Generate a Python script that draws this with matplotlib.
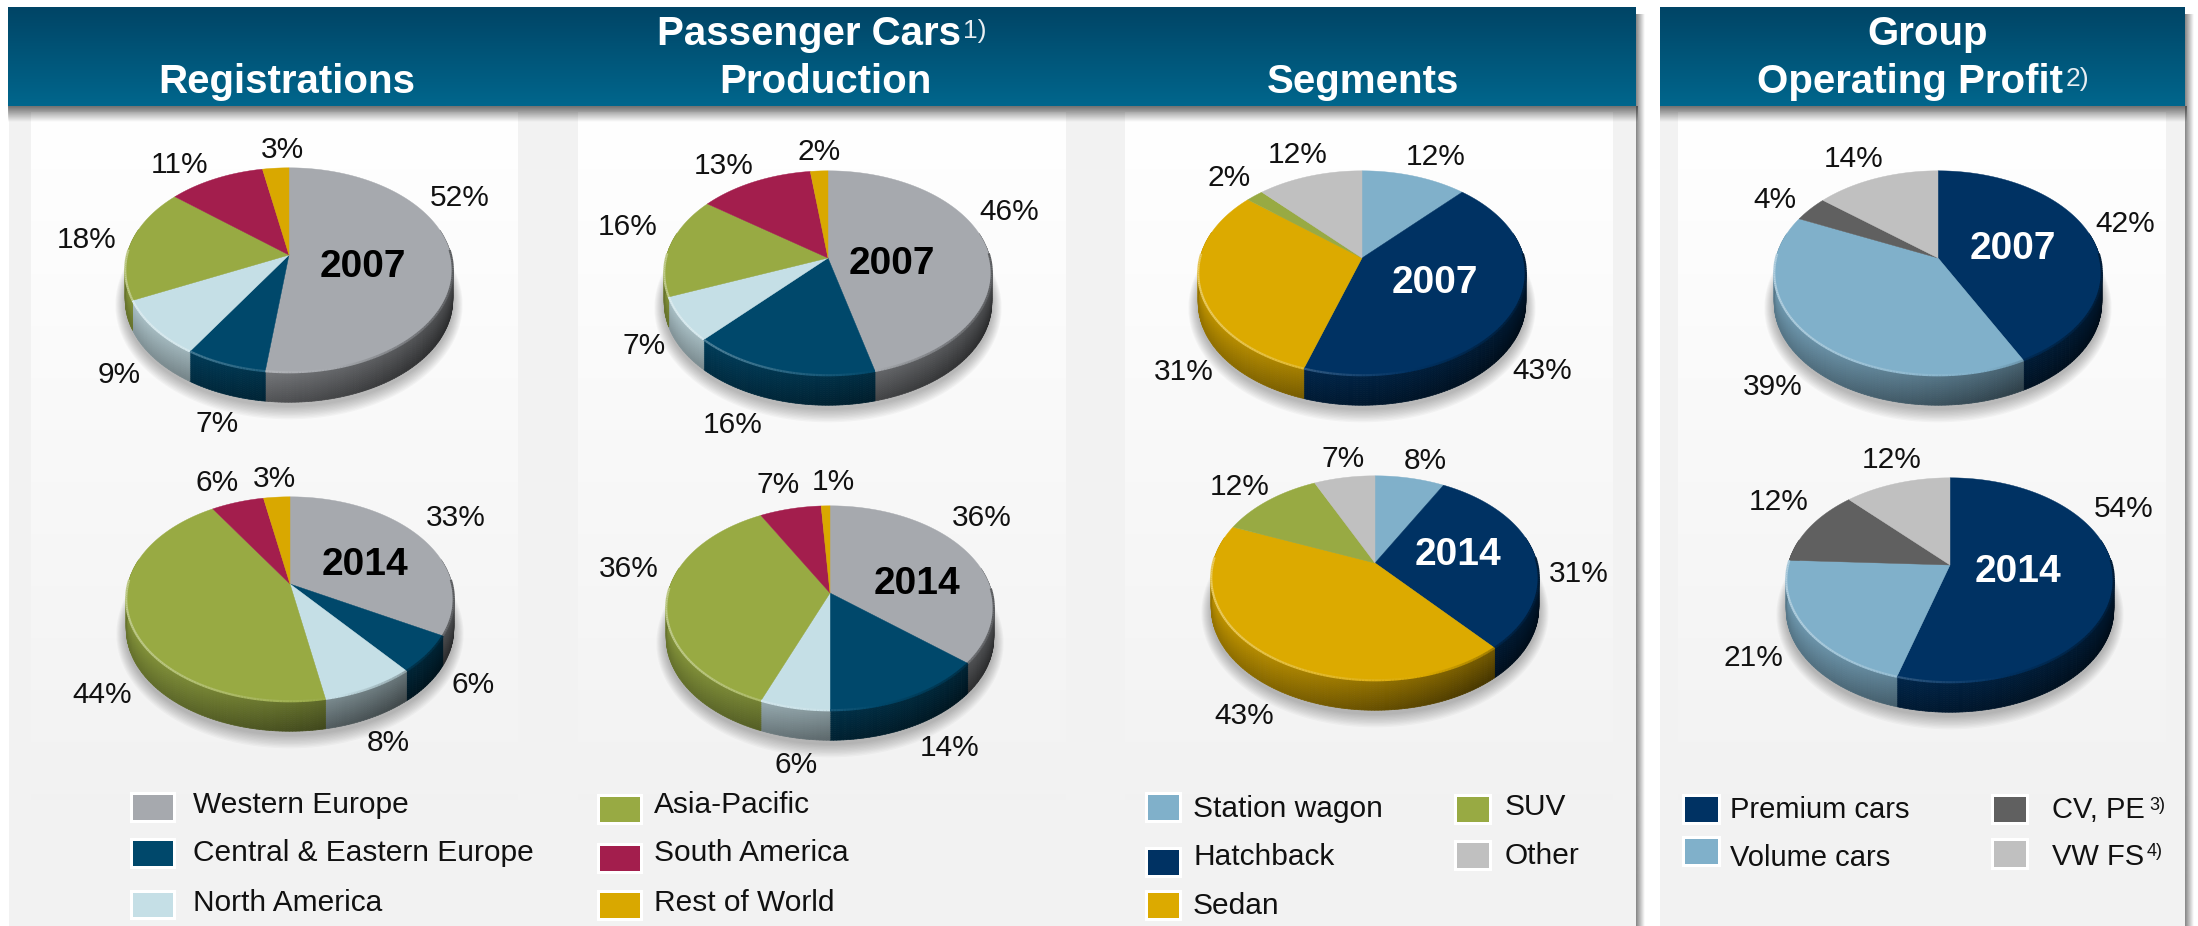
import numpy as np
import matplotlib
matplotlib.use("Agg")
import matplotlib.pyplot as plt
from matplotlib.collections import PolyCollection
from matplotlib.colors import to_rgb

plt.rcParams['font.family'] = ['Liberation Sans', 'DejaVu Sans']

# data
regions = ["Western Europe", "Central & Eastern Europe", "North America",
           "Asia-Pacific", "South America", "Rest of World"]
segments = ["Station wagon", "Hatchback", "Sedan", "SUV", "Other"]
profit_parts = ["Premium cars", "Volume cars", "CV, PE", "VW FS"]

registrations_2007 = [52, 7, 9, 18, 11, 3]
registrations_2014 = [33, 6, 8, 44, 6, 3]
production_2007 = [46, 16, 7, 16, 13, 2]
production_2014 = [36, 14, 6, 36, 7, 1]
segments_2007 = [12, 43, 31, 2, 12]
segments_2014 = [8, 31, 43, 12, 7]
profit_2007 = [42, 39, 4, 14]
profit_2014 = [54, 21, 12, 12]

region_colors = ["#a6a9ae", "#00486b", "#c5dfe6", "#98aa43", "#a31e4d", "#d9a800"]
segment_colors = ["#80b0ca", "#003263", "#dcaa00", "#98aa43", "#c0c0c0"]
profit_colors = ["#003263", "#80b0ca", "#606060", "#c0c0c0"]

# pie shape, in pixels
PIE_A = 162.0
PIE_B = 100.0
PIE_K = 0.147
PIE_DEPTH = 30.0
BANDS = 15

fig = plt.figure(figsize=(21.98, 9.26), dpi=100, facecolor="white")
ax = fig.add_axes([0, 0, 1, 1])


def project(theta, cx, cy):
    # circle seen in perspective, the apex stays off the ellipse centre
    w = 1 + PIE_K * np.cos(theta)
    return cx + PIE_A * np.sin(theta) / w, cy - PIE_B * np.cos(theta) / w


def mix(color, other, amount):
    c = np.array(to_rgb(color))
    return tuple(c * (1 - amount) + np.array(other) * amount)


def draw_pie(values, colors, cx, cy):
    full = np.linspace(0, 2 * np.pi, 361)
    fx, fy = project(full, cx, cy)

    # soft shadow under the pie
    for g in range(10, 0, -1):
        sx = cx + (fx - cx) * (1 + g * 0.006)
        sy = cy + (fy - cy) * (1 + g * 0.012) + PIE_DEPTH + 3
        ax.fill(sx, sy, color="#303030", alpha=0.035, lw=0, zorder=3)

    edges = np.cumsum([0] + list(values)) / sum(values) * 2 * np.pi

    # side wall, in thin strips so that it can be shaded
    polys, shades = [], []
    for i, col in enumerate(colors):
        n = max(int(np.degrees(edges[i + 1] - edges[i])), 2)
        th = np.linspace(edges[i], edges[i + 1], n + 1)
        x, y = project(th, cx, cy)
        for j in range(n):
            # only the front of the wall can be seen
            if np.cos(th[j]) > 0.25 and np.cos(th[j + 1]) > 0.25:
                continue
            t = (0.5 * (x[j] + x[j + 1]) - cx + PIE_A) / (2 * PIE_A)
            for band in range(BANDS):
                d0, d1 = PIE_DEPTH * band / BANDS, PIE_DEPTH * (band + 1) / BANDS
                polys.append([(x[j], y[j] + d0), (x[j + 1], y[j + 1] + d0),
                              (x[j + 1], y[j + 1] + d1), (x[j], y[j] + d1)])
                f = 0.78 - 0.42 * t + 0.10 * (1 - 2 * band / (BANDS - 1))
                shades.append(tuple(np.array(to_rgb(col)) * f))
    ax.add_collection(PolyCollection(polys, facecolors=shades, edgecolors=shades,
                                     linewidths=0.5, zorder=4))

    # top surface and its rim
    for i, col in enumerate(colors):
        n = max(int(np.degrees(edges[i + 1] - edges[i])), 2)
        th = np.linspace(edges[i], edges[i + 1], n + 1)
        x, y = project(th, cx, cy)
        ax.fill(np.r_[cx, x], np.r_[cy, y], color=col, lw=0.3, zorder=5)
        for j in range(n):
            t = (0.5 * (x[j] + x[j + 1]) - cx + PIE_A) / (2 * PIE_A)
            if 0.5 * (y[j] + y[j + 1]) < cy - 5:
                continue
            if t < 0.65:
                rim = mix(col, (1, 1, 1), 0.38 * (1 - t / 0.65))
            else:
                rim = mix(col, (0, 0, 0), 0.45 * (t - 0.65) / 0.35)
            ax.plot(x[j:j + 2], y[j:j + 2], color=rim, lw=1.6, zorder=6,
                    solid_capstyle="butt")


def pie_labels(values, positions, year, year_pos, year_color):
    for v, (x, y) in zip(values, positions):
        ax.text(x, y, f"{v}%", fontsize=21.5, color="#111111",
                ha="center", va="center", zorder=8)
    ax.text(year_pos[0], year_pos[1], year, fontsize=28, fontweight="bold",
            color=year_color, ha="center", va="center", zorder=8)


def vgrad(x0, x1, y0, y1, top, bottom, zorder=1):
    n = 64
    c0, c1 = np.array(top, dtype=float), np.array(bottom, dtype=float)
    s = np.linspace(0, 1, n)[:, None, None]
    ax.imshow(c0[None, None, :] * (1 - s) + c1[None, None, :] * s,
              extent=(x0, x1, y1, y0), origin="upper", aspect="auto",
              interpolation="bilinear", zorder=zorder)


def hgrad(x0, x1, y0, y1, top, bottom, zorder=1):
    n = 32
    c0, c1 = np.array(top, dtype=float), np.array(bottom, dtype=float)
    s = np.linspace(0, 1, n)[None, :, None]
    ax.imshow(c0[None, None, :] * (1 - s) + c1[None, None, :] * s,
              extent=(x0, x1, y1, y0), origin="upper", aspect="auto",
              interpolation="bilinear", zorder=zorder)


# panels
PANEL_BG = (0.949, 0.949, 0.949)
for x0, x1 in [(9, 1636), (1660, 2185)]:
    ax.fill_between([x0, x1], 106, 926, color=PANEL_BG, lw=0, zorder=0)
for x0, x1 in [(31, 518), (578, 1066), (1125, 1613), (1678, 2166)]:
    vgrad(x0, x1, 112, 800, (1, 1, 1), PANEL_BG)

# headers
for x0, x1 in [(8, 1636), (1660, 2185)]:
    vgrad(x0, x1, 7, 106, (0.0, 0.27, 0.40), (0.0, 0.40, 0.55), zorder=2)
    vgrad(x0, x1 + 2, 106, 122, (0.1, 0.1, 0.1, 0.6), (0.1, 0.1, 0.1, 0.0), zorder=2)
    hgrad(x1, x1 + 9, 14, 926, (0.2, 0.2, 0.2, 0.6), (0.2, 0.2, 0.2, 0.0), zorder=2)

header_titles = [("Passenger Cars", 809, 45), ("Registrations", 287, 93),
                 ("Production", 825, 93), ("Segments", 1363, 93),
                 ("Group", 1928, 45), ("Operating Profit", 1910, 93)]
for title, x, y in header_titles:
    ax.text(x, y, title, fontsize=29, fontweight="bold", color="white",
            ha="center", va="baseline", zorder=8)
ax.text(963, 38, "1)", fontsize=19, color="#e8eef2", ha="left", va="baseline", zorder=8)
ax.text(2066, 86, "2)", fontsize=19, color="#e8eef2", ha="left", va="baseline", zorder=8)

# pies
draw_pie(registrations_2007, region_colors, 289, 255)
pie_labels(registrations_2007,
           [(460, 198), (217, 424), (119, 375), (87, 240), (180, 165), (282, 150)],
           "2007", (363, 267), "black")
draw_pie(registrations_2014, region_colors, 290, 584)
pie_labels(registrations_2014,
           [(456, 518), (473, 685), (388, 743), (102, 695), (217, 483), (274, 479)],
           "2014", (365, 565), "black")

draw_pie(production_2007, region_colors, 828, 258)
pie_labels(production_2007,
           [(1009, 212), (733, 425), (644, 346), (628, 227), (724, 166), (819, 152)],
           "2007", (892, 264), "black")
draw_pie(production_2014, region_colors, 830, 593)
pie_labels(production_2014,
           [(982, 518), (950, 748), (796, 765), (629, 569), (778, 485), (833, 482)],
           "2014", (917, 584), "black")

draw_pie(segments_2007, segment_colors, 1362, 258)
pie_labels(segments_2007,
           [(1436, 157), (1542, 371), (1184, 372), (1229, 178), (1298, 155)],
           "2007", (1435, 283), "white")
draw_pie(segments_2014, segment_colors, 1375, 563)
pie_labels(segments_2014,
           [(1425, 461), (1579, 574), (1244, 716), (1240, 487), (1343, 459)],
           "2014", (1458, 555), "white")

draw_pie(profit_2007, profit_colors, 1938, 258)
pie_labels(profit_2007,
           [(2125, 224), (1773, 387), (1775, 200), (1854, 159)],
           "2007", (2013, 249), "white")
draw_pie(profit_2014, profit_colors, 1950, 565)
pie_labels(profit_2014,
           [(2124, 509), (1753, 658), (1779, 502), (1892, 460)],
           "2014", (2018, 572), "white")


# legends
def legend_entry(name, color, x0, x1, y0, y1, tx, ty, size=21.5):
    ax.fill_between([x0 - 3, x1 + 3], y0 - 3, y1 + 3, color="white", lw=0, zorder=6)
    ax.fill_between([x0, x1], y0, y1, color=color, lw=0, zorder=7)
    ax.text(tx, ty, name, fontsize=size, color="#111111", ha="left", va="center", zorder=8)


region_boxes = [(133, 173, 795, 820, 193, 805), (133, 173, 841, 866, 193, 853),
                (133, 173, 893, 917, 193, 903), (600, 640, 797, 822, 654, 805),
                (600, 640, 846, 871, 654, 853), (600, 640, 893, 918, 654, 903)]
for name, col, box in zip(regions, region_colors, region_boxes):
    legend_entry(name, col, *box)

segment_boxes = [(1148, 1179, 795, 820, 1193, 809), (1148, 1179, 850, 875, 1193, 857),
                 (1148, 1179, 893, 918, 1193, 906), (1457, 1489, 797, 822, 1505, 807),
                 (1457, 1489, 843, 868, 1505, 856)]
for name, col, box in zip(segments, segment_colors, segment_boxes):
    legend_entry(name, col, *box)

profit_boxes = [(1685, 1718, 797, 822, 1730, 810), (1685, 1718, 839, 864, 1730, 858),
                (1994, 2026, 797, 822, 2052, 810), (1994, 2026, 841, 867, 2052, 857)]
for name, col, box in zip(profit_parts, profit_colors, profit_boxes):
    legend_entry(name, col, *box, size=21)
ax.text(2149, 805, "3)", fontsize=13, color="#111111", ha="left", va="center", zorder=8)
ax.text(2147, 852, "4)", fontsize=13, color="#111111", ha="left", va="center", zorder=8)

ax.set_xlim(0, 2198)
ax.set_ylim(926, 0)
ax.axis("off")

fig.savefig("out.png", dpi=100, facecolor="white")
